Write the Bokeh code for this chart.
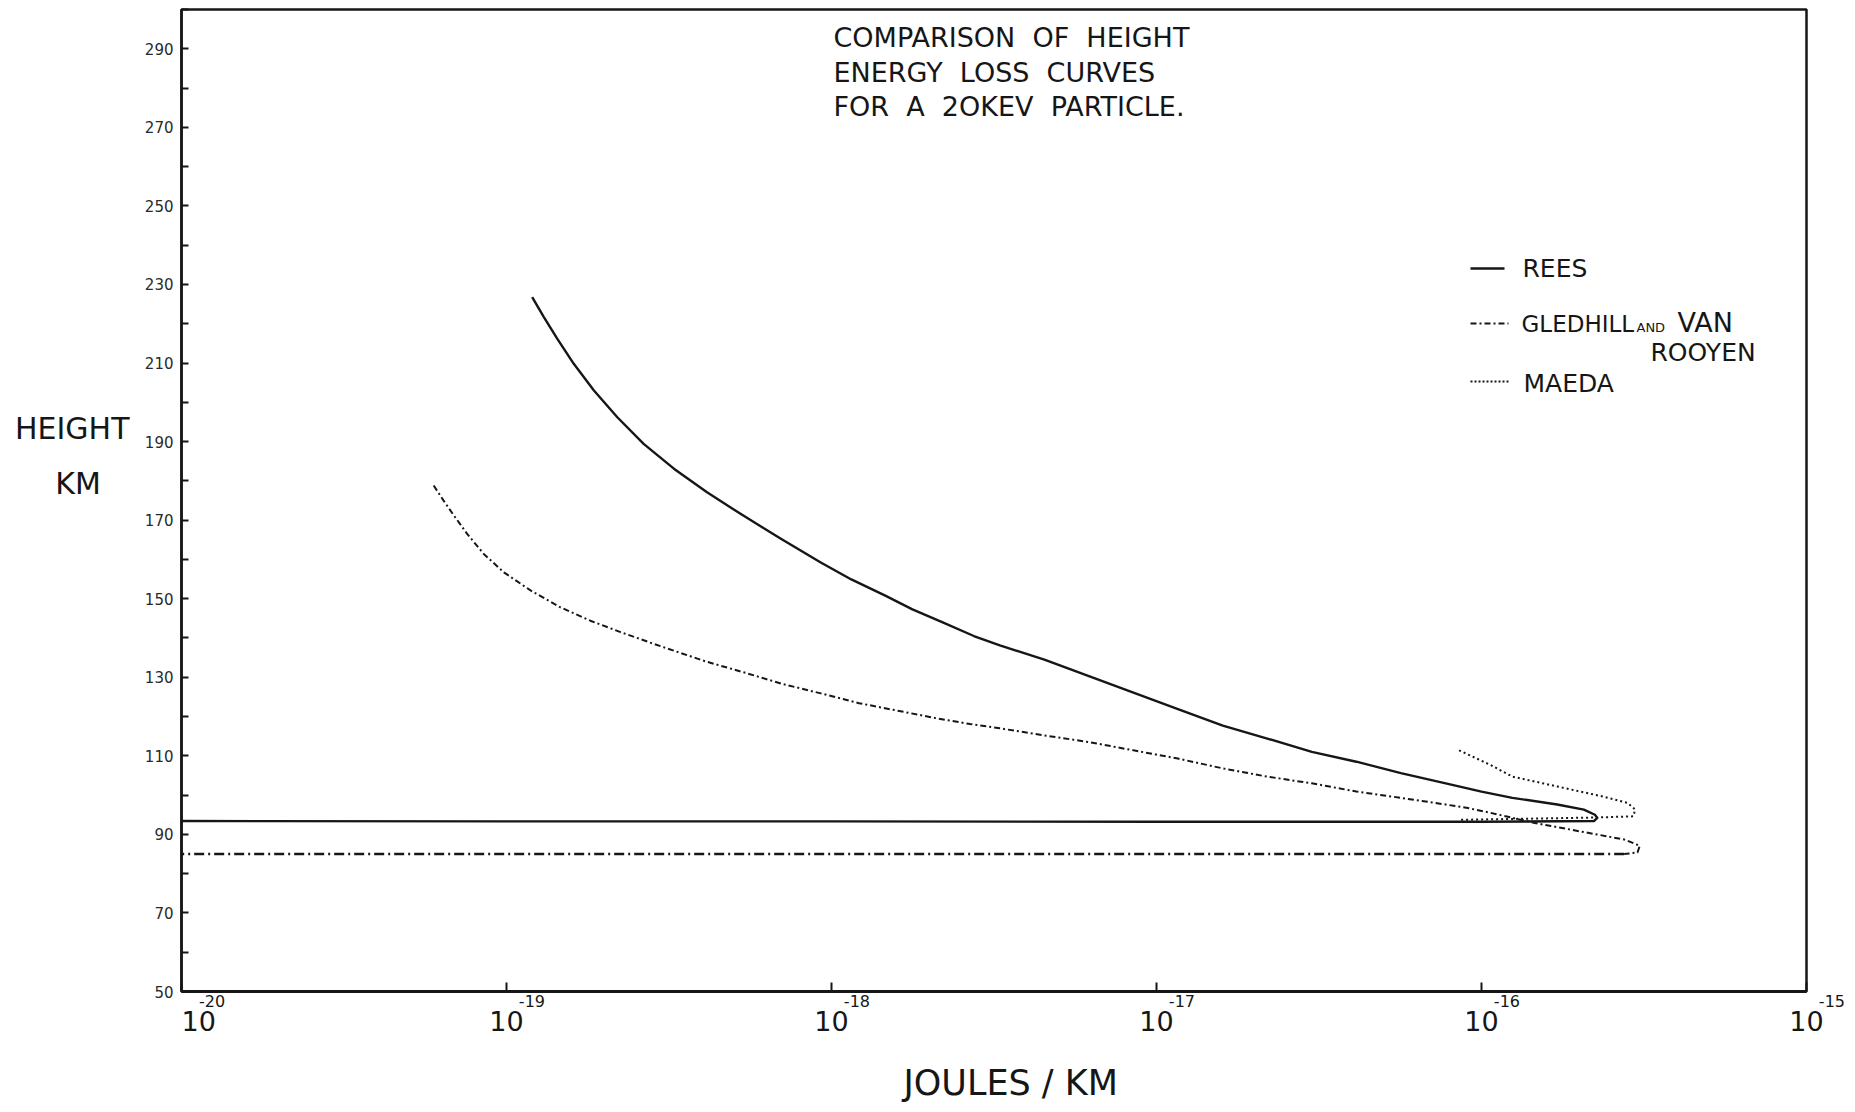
from bokeh.plotting import figure
from bokeh.models import Range1d, FixedTicker, Label, LogAxis, LinearAxis
from bokeh.embed import file_html
from bokeh.resources import INLINE

# ---- data: energy deposited per km, as log10(J/km), against height (km) ----
rees_log_energy = [-18.921, -18.885, -18.844, -18.793, -18.731, -18.659, -18.578, -18.485,
                   -18.383, -18.280, -18.157, -18.033, -17.939, -17.833, -17.751, -17.656,
                   -17.562, -17.482, -17.345, -17.208, -17.071, -16.934, -16.796, -16.659,
                   -16.522, -16.385, -16.248, -16.110, -16.000, -15.905, -15.767, -15.685,
                   -15.651, -15.644, -15.654, -16.0, -17.0, -18.0, -19.0, -20.0]
rees_height = [226.8, 221.7, 216.2, 209.8, 203.0, 196.2, 189.4, 183.1,
               177.1, 171.6, 165.3, 159.2, 154.9, 150.7, 147.3, 143.9,
               140.5, 138.1, 134.5, 130.3, 126.1, 121.9, 117.7, 114.4,
               111.0, 108.5, 105.6, 103.0, 100.9, 99.3, 97.6, 96.3,
               95.0, 94.2, 93.4, 93.2, 93.2, 93.3, 93.3, 93.4]

gledhill_log_energy = [-19.224, -19.193, -19.162, -19.121, -19.070, -19.008, -18.926, -18.834,
                       -18.742, -18.649, -18.547, -18.386, -18.268, -18.151, -18.033, -17.915,
                       -17.797, -17.680, -17.574, -17.482, -17.345, -17.208, -17.071, -16.934,
                       -16.796, -16.659, -16.522, -16.385, -16.248, -16.110, -16.042, -15.973,
                       -15.836, -15.699, -15.561, -15.513, -15.520, -15.561, -17.0, -20.0]
gledhill_height = [178.8, 174.9, 171.2, 166.5, 161.4, 156.7, 152.1, 147.8,
                   144.4, 141.5, 138.5, 134.0, 131.2, 128.3, 125.9, 123.4,
                   121.5, 119.6, 118.1, 117.0, 115.2, 113.5, 111.4, 109.3,
                   106.8, 104.7, 103.0, 100.9, 99.3, 97.6, 96.7, 95.5,
                   92.9, 90.8, 88.7, 87.1, 85.4, 85.0, 85.0, 85.0]

maeda_log_energy = [-16.069, -15.973, -15.905, -15.767, -15.630, -15.550, -15.527,
                    -15.533, -15.644, -15.850, -16.069]
maeda_height = [111.4, 107.7, 104.7, 102.2, 99.7, 98.0, 96.3,
                94.6, 94.3, 94.0, 93.7]

height_labels = [50, 70, 90, 110, 130, 150, 170, 190, 210, 230, 250, 270, 290]
height_minor = [60, 80, 100, 120, 140, 160, 180, 200, 220, 240, 260, 280, 300]
energy_decades = [-20, -19, -18, -17, -16, -15]

NB = "\u00a0"
title_lines = ["COMPARISON" + NB * 2 + "OF" + NB * 2 + "HEIGHT",
               "ENERGY" + NB * 2 + "LOSS" + NB * 2 + "CURVES",
               "FOR" + NB * 2 + "A" + NB * 2 + "2OKEV" + NB * 2 + "PARTICLE."]

# ---- layout ----
X_MIN, X_MAX = 1e-20, 1e-15
Y_MIN, Y_MAX = 50, 300
FRAME_L, FRAME_T, FRAME_W, FRAME_H = 181, 9, 1625, 982
INK = "#161616"
FONT = "DejaVu Sans"


def px_x(px):
    return 10 ** (-20 + 5 * (px - FRAME_L) / FRAME_W)


def px_y(py):
    return Y_MIN + (Y_MAX - Y_MIN) * (FRAME_T + FRAME_H - py) / FRAME_H


p = figure(x_axis_type="log", output_backend="svg", toolbar_location=None,
           frame_width=FRAME_W, frame_height=FRAME_H,
           min_border_left=FRAME_L, min_border_right=1855 - FRAME_L - FRAME_W,
           min_border_top=FRAME_T, min_border_bottom=1112 - FRAME_T - FRAME_H,
           x_range=Range1d(X_MIN, X_MAX), y_range=Range1d(Y_MIN, Y_MAX),
           background_fill_color="white", border_fill_color="white")
p.grid.visible = False
p.outline_line_color = INK
p.outline_line_width = 2.5

decade_values = [10.0 ** d for d in energy_decades]

# x axis: inward decade ticks only
p.xaxis.ticker = FixedTicker(ticks=decade_values, minor_ticks=[])
p.xaxis.major_tick_in = 9
p.xaxis.major_tick_out = 0
p.xaxis.major_tick_line_width = 2
p.xaxis.major_tick_line_color = INK
p.xaxis.axis_line_width = 3
p.xaxis.axis_line_color = INK
p.xaxis.major_label_text_alpha = 0
p.xaxis.major_label_text_font_size = "1px"
p.xaxis.major_label_standoff = 0


def bare_axis(cls, **kw):
    return cls(axis_line_color=None, major_tick_line_color=None, minor_tick_line_color=None,
               major_label_text_font=FONT, major_label_text_color=INK, **kw)


# row of exponents, set to the right of each decade tick
EXP_SIZE = 16
exp_shift_px = {-20: 31}
exp_labels = {}
for d, v in zip(energy_decades, decade_values):
    shift = exp_shift_px.get(d, 25)
    pad = int(round(2 * shift / (0.318 * EXP_SIZE)))
    exp_labels[v] = NB * pad + str(d)
exp_axis = bare_axis(LogAxis, ticker=FixedTicker(ticks=decade_values, minor_ticks=[]),
                     major_label_overrides=exp_labels,
                     major_label_text_font_size=f"{EXP_SIZE}px",
                     major_label_standoff=-6)
p.add_layout(exp_axis, "below")

# row of "10" bases, with the axis title beneath
base_labels = {v: (NB * 4 + "10" if d == -20 else "10") for d, v in zip(energy_decades, decade_values)}
base_axis = bare_axis(LogAxis, ticker=FixedTicker(ticks=decade_values, minor_ticks=[]),
                      major_label_overrides=base_labels, major_label_text_font_size="27px",
                      major_label_standoff=-14,
                      axis_label=NB * 3 + "JOULES / KM", axis_label_text_font=FONT,
                      axis_label_text_font_size="35px", axis_label_text_font_style="normal",
                      axis_label_text_color=INK, axis_label_standoff=23)
p.add_layout(base_axis, "below")

# y axis
p.yaxis.ticker = FixedTicker(ticks=height_labels, minor_ticks=height_minor)
p.yaxis.major_tick_in = 7
p.yaxis.major_tick_out = 0
p.yaxis.minor_tick_in = 7
p.yaxis.minor_tick_out = 0
p.yaxis.major_tick_line_width = 2
p.yaxis.minor_tick_line_width = 2
p.yaxis.major_tick_line_color = INK
p.yaxis.minor_tick_line_color = INK
p.yaxis.axis_line_width = 2.5
p.yaxis.axis_line_color = INK
p.yaxis.major_label_text_font = FONT
p.yaxis.major_label_text_font_size = "15px"
p.yaxis.major_label_text_color = "#2a2a2a"
p.yaxis.major_label_standoff = 8

# horizontal two-line y title
height_title_pos = [round(px_y(428), 1), round(px_y(483), 1)]
y_title_axis = bare_axis(LinearAxis,
                         ticker=FixedTicker(ticks=height_title_pos, minor_ticks=[]),
                         major_label_overrides={height_title_pos[0]: "HEIGHT",
                                                height_title_pos[1]: "KM" + NB * 3},
                         major_label_text_font_size="30px", major_label_standoff=6)
p.add_layout(y_title_axis, "left")

# curves
rees_x = [10 ** v for v in rees_log_energy]
gled_x = [10 ** v for v in gledhill_log_energy]
maeda_x = [10 ** v for v in maeda_log_energy]

p.line(rees_x, rees_height, line_color=INK, line_width=2.4, line_join="round")

# Gledhill & Van Rooyen: finer dash-dot on the descending branch, coarser on the return
turn = gledhill_height.index(85.0) + 1
p.line(gled_x[:turn], gledhill_height[:turn], line_color=INK, line_width=2.0,
       line_dash="6 3 2 3", line_join="round")
p.line(gled_x[turn - 1:], gledhill_height[turn - 1:], line_color=INK, line_width=2.3,
       line_dash="10 4 2 4", line_join="round")

p.line(maeda_x, maeda_height, line_color=INK, line_width=2.0, line_dash="2 3",
       line_join="round")


def add_label(px, baseline_py, text, size):
    # the label box sits a little low relative to the alphabetic baseline
    p.add_layout(Label(x=px_x(px), y=px_y(baseline_py - 0.36 * size), text=text,
                       text_font=FONT, text_font_size=f"{size}px", text_align="left",
                       text_baseline="alphabetic", text_color=INK))


# title block
for i, line in enumerate(title_lines):
    add_label(833, 47 + 34.5 * i, line, 27)

# legend
p.line([px_x(1470), px_x(1504)], [px_y(268), px_y(268)], line_color=INK, line_width=2.4)
p.line([px_x(1470), px_x(1508)], [px_y(323), px_y(323)], line_color=INK, line_width=2.0,
       line_dash="6 3 2 3")
p.line([px_x(1470), px_x(1510)], [px_y(381), px_y(381)], line_color=INK, line_width=2.0,
       line_dash="2 2")
add_label(1522, 277, "REES", 25)
add_label(1521, 332, "GLEDHILL", 23)
add_label(1636, 332, "AND", 13)
add_label(1677, 332, "VAN", 27)
add_label(1650, 361, "ROOYEN", 25)
add_label(1523, 392, "MAEDA", 25)

open("out.html", "w").write(file_html(p, INLINE))
